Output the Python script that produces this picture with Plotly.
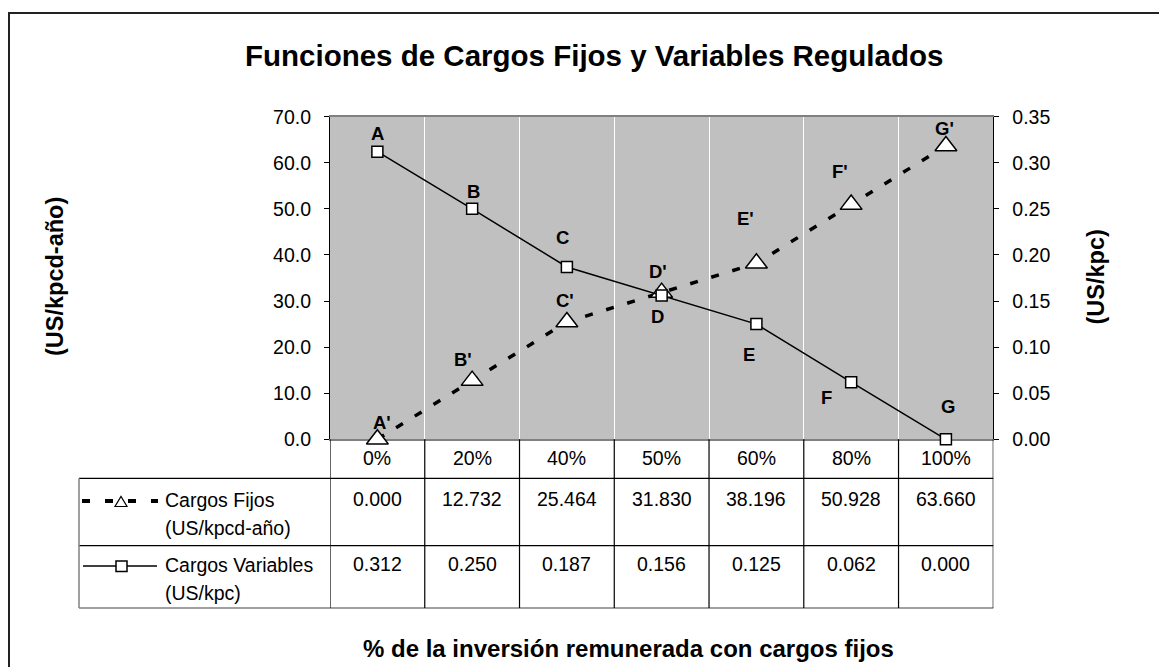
import plotly.graph_objects as go

# ---------------- data ----------------
categories = ["0%", "20%", "40%", "50%", "60%", "80%", "100%"]
cargos_fijos = [0.000, 12.732, 25.464, 31.830, 38.196, 50.928, 63.660]
cargos_variables = [0.312, 0.250, 0.187, 0.156, 0.125, 0.062, 0.000]
labels_fijos = ["A'", "B'", "C'", "D'", "E'", "F'", "G'"]
labels_variables = ["A", "B", "C", "D", "E", "F", "G"]
name_fijos = ["Cargos Fijos", "(US/kpcd-año)"]
name_variables = ["Cargos Variables", "(US/kpc)"]
title_text = "Funciones de Cargos Fijos y Variables Regulados"
x_title = "% de la inversión remunerada con cargos fijos"
y_title_left = "(US/kpcd-año)"
y_title_right = "(US/kpc)"

# ---------------- styles ----------------
W, H = 1167, 667
OFF = 8  # page body margin
FONT = "Liberation Sans, Arial, sans-serif"
def px(x):
    return (x - OFF) / W
def py(y):
    return 1 - (y - OFF) / H

# label offsets (xshift, yshift in px)
offs_fijos = [(5, 17), (-9, 21), (-2, 21), (-4, 21), (-11, 45), (-11, 33), (-1, 17)]
offs_var = [(0, 18), (1, 17), (-4, 29), (-4, -21), (-7, -30), (-25, -15), (2, 33)]

n = len(categories)
xi = list(range(n))

fig = go.Figure()
fig.add_trace(go.Scatter(
    x=xi, y=cargos_fijos, yaxis="y", mode="lines+markers",
    name=" ".join(name_fijos),
    line=dict(color="black", width=3.5, dash="8px,14px"),
    marker=dict(symbol="triangle-up", size=19, color="white",
                line=dict(color="black", width=1.5)),
    cliponaxis=False, showlegend=False,
))
fig.add_trace(go.Scatter(
    x=xi, y=cargos_variables, yaxis="y2", mode="lines+markers",
    name=" ".join(name_variables),
    line=dict(color="black", width=1.5),
    marker=dict(symbol="square", size=11, color="white",
                line=dict(color="black", width=1.5)),
    cliponaxis=False, showlegend=False,
))

ann = []
C = dict(xanchor="center", yanchor="middle", showarrow=False)
lab_font = dict(family=FONT, size=18.5, color="black")
for i, (lab, v) in enumerate(zip(labels_fijos, cargos_fijos)):
    dx, dy = offs_fijos[i]
    ann.append(dict(x=i, y=v, xref="x", yref="y", text=f"<b>{lab}</b>",
                    xshift=dx, yshift=dy, font=lab_font, **C))
for i, (lab, v) in enumerate(zip(labels_variables, cargos_variables)):
    dx, dy = offs_var[i]
    ann.append(dict(x=i, y=v, xref="x", yref="y2", text=f"<b>{lab}</b>",
                    xshift=dx, yshift=dy, font=lab_font, **C))

tab_font = dict(family=FONT, size=19.5, color="black")
for i, c in enumerate(categories):
    ann.append(dict(x=i, y=py(458), xref="x", yref="paper", text=c, font=tab_font, **C))
for i, v in enumerate(cargos_fijos):
    ann.append(dict(x=i, y=py(499), xref="x", yref="paper", text=f"{v:.3f}", font=tab_font, **C))
for i, v in enumerate(cargos_variables):
    ann.append(dict(x=i, y=py(564), xref="x", yref="paper", text=f"{v:.3f}", font=tab_font, **C))
for txt, yy in zip(name_fijos + name_variables, [500, 528, 565, 593]):
    ann.append(dict(x=px(163), y=py(yy), xref="paper", yref="paper", xanchor="left", yanchor="middle",
                    text=txt, showarrow=False, font=tab_font))

ann.append(dict(x=px(593.5), y=py(55), xref="paper", yref="paper", text=f"<b>{title_text}</b>",
                font=dict(family=FONT, size=29.5, color="black"), **C))
ann.append(dict(x=px(628.5), y=py(648), xref="paper", yref="paper", text=f"<b>{x_title}</b>",
                font=dict(family=FONT, size=24, color="black"), **C))
ann.append(dict(x=px(55), y=py(277), xref="paper", yref="paper", text=f"<b>{y_title_left}</b>",
                textangle=-90, font=dict(family=FONT, size=23.5, color="black"), **C))
ann.append(dict(x=px(1096), y=py(277.5), xref="paper", yref="paper", text=f"<b>{y_title_right}</b>",
                textangle=-90, font=dict(family=FONT, size=23.5, color="black"), **C))

shapes = []
# outer frame (open to the right and bottom)
shapes.append(dict(type="path", xref="paper", yref="paper",
                   path=f"M {px(9)} 0 L {px(9)} {py(13)} L 1 {py(13)}",
                   line=dict(color="#222222", width=2), layer="below"))
# table lines
tab_left, tab_right = px(79), px(993.3)
for yy, col in [(478.3, "black"), (545.7, "black"), (608, "#808080")]:
    shapes.append(dict(type="line", xref="paper", yref="paper", x0=tab_left, x1=tab_right,
                       y0=py(yy), y1=py(yy), line=dict(color=col, width=1.5 if col != "black" else 1.2)))
shapes.append(dict(type="line", xref="paper", yref="paper", x0=tab_left, x1=tab_left,
                   y0=py(478.3), y1=py(608), line=dict(color="#808080", width=1.5)))
for i in range(n + 1):
    shapes.append(dict(type="line", xref="x", yref="paper", x0=i - 0.5, x1=i - 0.5,
                       y0=py(439.3), y1=py(608), line=dict(color="black", width=1.2)))
# legend samples
shapes.append(dict(type="line", xref="paper", yref="paper", x0=px(82), x1=px(158), y0=py(501), y1=py(501),
                   line=dict(color="black", width=4, dash="8px,15px")))
tx, ty = 121, 501.5
shapes.append(dict(type="path", xref="paper", yref="paper",
                   path=f"M {px(tx-6)} {py(ty+5)} L {px(tx+6)} {py(ty+5)} L {px(tx)} {py(ty-5)} Z",
                   fillcolor="white", line=dict(color="black", width=1.2)))
shapes.append(dict(type="line", xref="paper", yref="paper", x0=px(83), x1=px(157), y0=py(566), y1=py(566),
                   line=dict(color="black", width=1.5)))
shapes.append(dict(type="rect", xref="paper", yref="paper", x0=px(116), x1=px(127), y0=py(561), y1=py(571.5),
                   fillcolor="white", line=dict(color="black", width=1.5)))

tick_font = dict(family=FONT, size=19.5, color="black")
ydom = [py(439.3), py(116.7)]
fig.update_layout(
    width=W, height=H, autosize=False,
    margin=dict(l=0, r=0, t=0, b=0, pad=0, autoexpand=False),
    paper_bgcolor="white", plot_bgcolor="#C0C0C0",
    showlegend=False,
    xaxis=dict(domain=[px(330), px(993.3)], range=[-0.5, n - 0.5],
               tickvals=[i + 0.5 for i in range(n - 1)], showticklabels=False, ticks="",
               showgrid=True, gridcolor="white", gridwidth=1, zeroline=False, automargin=False,
               showline=True, linecolor="#808080", linewidth=1.5, mirror=True, layer="below traces"),
    yaxis=dict(domain=ydom, range=[0, 70], tick0=0, dtick=10, tickformat=".1f",
               ticks="outside", ticklen=5, tickcolor="black", tickwidth=1, automargin=False,
               showline=True, linecolor="black", linewidth=1.2, showgrid=False, zeroline=False,
               tickfont=tick_font, ticklabelstandoff=9, layer="below traces"),
    yaxis2=dict(domain=ydom, range=[0, 0.35], tick0=0, dtick=0.05, tickformat=".2f",
                overlaying="y", side="right", anchor="x", automargin=False,
                ticks="outside", ticklen=5, tickcolor="black", tickwidth=1,
                showline=True, linecolor="black", linewidth=1.2, showgrid=False, zeroline=False,
                tickfont=tick_font, ticklabelstandoff=9, layer="below traces"),
    yaxis3=dict(domain=ydom, range=[0, 70], tick0=0, dtick=10, overlaying="y", side="left", anchor="x",
                ticks="inside", ticklen=5, tickcolor="black", tickwidth=1, showticklabels=False,
                showline=False, showgrid=False, zeroline=False, automargin=False),
    yaxis4=dict(domain=ydom, range=[0, 0.35], tick0=0, dtick=0.05, overlaying="y", side="right", anchor="x",
                ticks="inside", ticklen=5, tickcolor="black", tickwidth=1, showticklabels=False,
                showline=False, showgrid=False, zeroline=False, automargin=False),
    annotations=ann,
    shapes=shapes,
)

fig.write_html("out.html")
